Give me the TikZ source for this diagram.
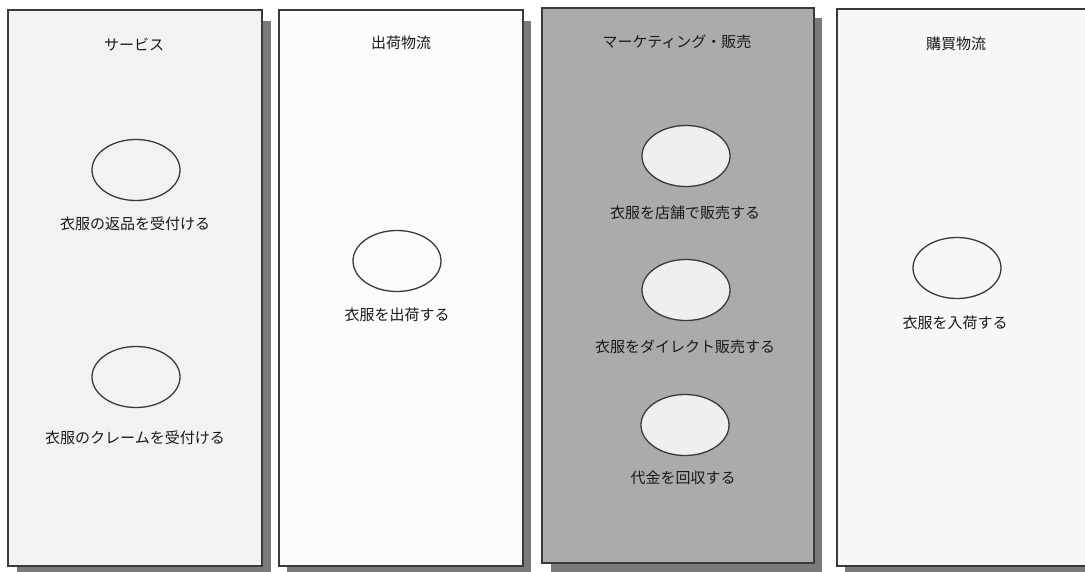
\documentclass[tikz,border=0pt]{standalone}
\usepackage{fontspec}
\setmainfont{Noto Sans CJK JP}
\usetikzlibrary{shapes.geometric}
\definecolor{edge}{HTML}{3A3A3A}
\definecolor{shade}{HTML}{7A7A7A}
\definecolor{paneA}{HTML}{F2F2F2}
\definecolor{paneB}{HTML}{FBFBFB}
\definecolor{paneC}{HTML}{ABABAB}
\definecolor{paneD}{HTML}{F7F7F7}
\definecolor{ovalC}{HTML}{EFEFEF}
\tikzset{
  panel/.style={draw=edge, line width=1.3pt},
  shadowbox/.style={fill=shade, draw=none},
  title/.style={font=\fontsize{15}{17}\selectfont, text=black!90, inner sep=0pt},
  oval/.style={ellipse, draw=edge, line width=1.3pt, minimum width=88pt, minimum height=61pt, inner sep=0pt},
  label/.style={font=\fontsize{15}{17}\selectfont, text=black!90, inner sep=0pt}
}
\begin{document}
\begin{tikzpicture}[x=1pt,y=-1pt]
\useasboundingbox (0,0) rectangle (1085,571);
\fill[white] (0,0) rectangle (1085,571);
\clip (0,0) rectangle (1085,571);
% shadows
\fill[shadowbox] (17,21) rectangle (271,575);
\fill[shadowbox] (287,21) rectangle (531,575);
\fill[shadowbox] (551,18) rectangle (822,572);
\fill[shadowbox] (845,19) rectangle (1100,575);
% panels
\draw[panel, fill=paneA] (8,10) rectangle (262,566);
\draw[panel, fill=paneB] (279,10) rectangle (523,566);
\draw[panel, fill=paneC] (542,8) rectangle (814,563);
\draw[panel, fill=paneD] (837,9) rectangle (1095,566);
% titles
\node[title] (t1) at (134,45) {サービス};
\node[title] (t2) at (401,43) {出荷物流};
\node[title] (t3) at (677,42) {マーケティング・販売};
\node[title] (t4) at (956,44) {購買物流};
% panel 1
\node[oval, fill=paneA] (e1) at (136,170) {};
\node[label] (l1) at (135,224) {衣服の返品を受付ける};
\node[oval, fill=paneA] (e2) at (136,377) {};
\node[label] (l2) at (135,438) {衣服のクレームを受付ける};
% panel 2
\node[oval, fill=paneB] (e3) at (397,261) {};
\node[label] (l3) at (397,315) {衣服を出荷する};
% panel 3
\node[oval, fill=ovalC] (e4) at (686,156) {};
\node[label] (l4) at (685,213) {衣服を店舗で販売する};
\node[oval, fill=ovalC] (e5) at (686,290) {};
\node[label] (l5) at (685,347) {衣服をダイレクト販売する};
\node[oval, fill=ovalC] (e6) at (685,425) {};
\node[label] (l6) at (683,478) {代金を回収する};
% panel 4
\node[oval, fill=paneD] (e7) at (957,268) {};
\node[label] (l7) at (955,323) {衣服を入荷する};
\end{tikzpicture}
\end{document}
